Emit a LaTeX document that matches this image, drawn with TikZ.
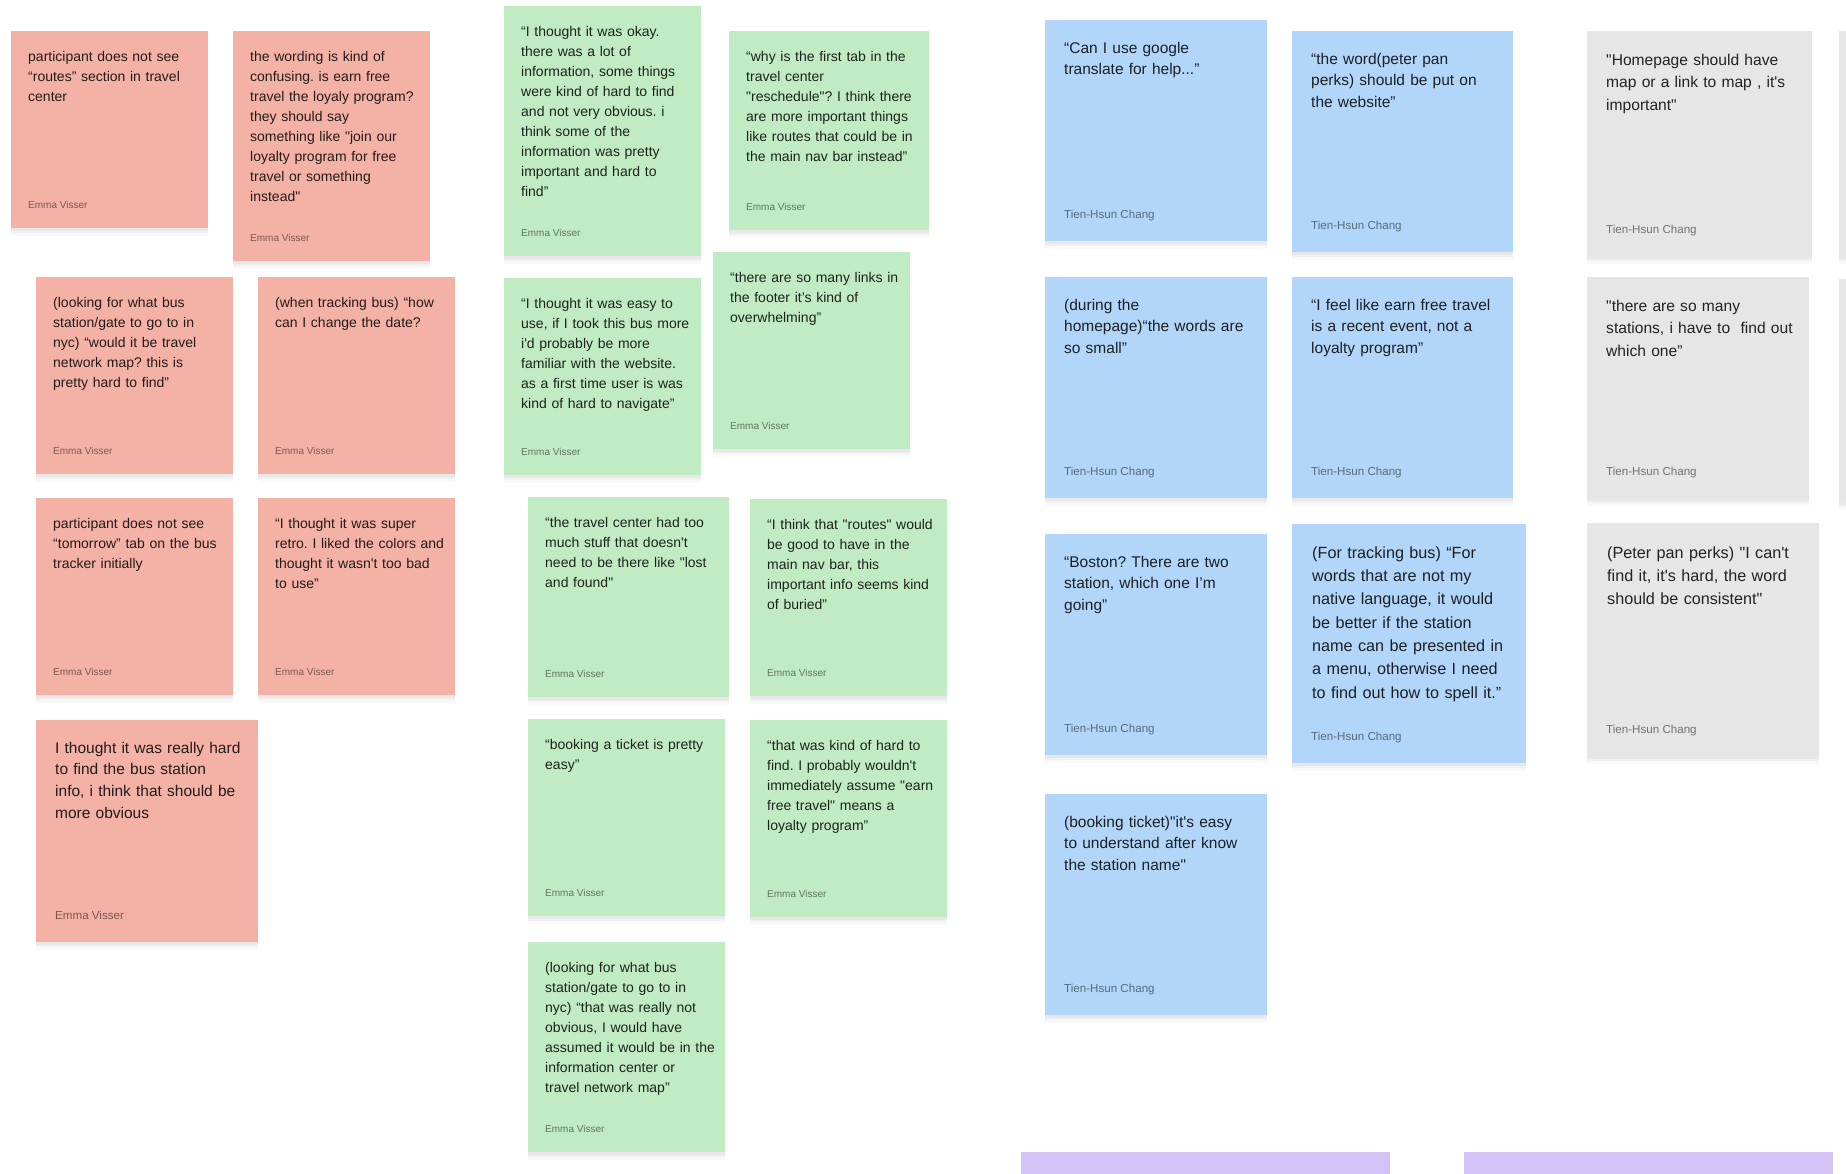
\documentclass[tikz,border=0pt]{standalone}
\usepackage{fontspec}
\newfontfamily\notefont{Liberation Sans}
\definecolor{notered}{HTML}{F4B2A6}
\definecolor{notegreen}{HTML}{C1EBC2}
\definecolor{noteblue}{HTML}{B2D6F9}
\definecolor{notegray}{HTML}{E6E6E6}
\definecolor{notepurple}{HTML}{D2C2F5}
\frenchspacing
\begin{document}
\begin{tikzpicture}[x=1pt,y=-1pt,
  sticky/.style={rectangle,anchor=north west,inner sep=0pt,minimum width=197pt,minimum height=197pt,
    preaction={fill=black,fill opacity=0.025,transform canvas={yshift=-8pt}},
    preaction={fill=black,fill opacity=0.03,transform canvas={yshift=-5pt}},
    preaction={fill=black,fill opacity=0.035,transform canvas={yshift=-2.5pt}}},
  remark/.style={anchor=north west,inner sep=0pt,text width=260pt,align=left,text opacity=0.85,
    font=\notefont\fontsize{14}{20}\selectfont,execute at begin node=\strut},
  bigremark/.style={remark,font=\notefont\fontsize{15.5}{21.8}\selectfont},
  grayremark/.style={remark,font=\notefont\fontsize{15.6}{22.7}\selectfont},
  xlremark/.style={remark,font=\notefont\fontsize{16.2}{23.3}\selectfont},
  who/.style={anchor=base west,inner sep=0pt,text opacity=0.5,font=\notefont\fontsize{10}{12}\selectfont},
  bigwho/.style={who,font=\notefont\fontsize{11.6}{14}\selectfont}]
  \useasboundingbox (0,0) rectangle (1846,1174);
  \clip (0,0) rectangle (1846,1174);
  \fill[white] (0,0) rectangle (1846,1174);

  % red notes
  \node[sticky,fill=notered] (r1) at (11,31) {};
  \node[remark] (r1t) at ([shift={(17,16.5)}]r1.north west) {participant does not see\\“routes” section in travel\\center};
  \node[sticky,fill=notered,minimum height=230pt] (r2) at (233,31) {};
  \node[remark] (r2t) at ([shift={(17,16.5)}]r2.north west) {the wording is kind of\\confusing. is earn free\\travel the loyaly program?\\they should say\\something like "join our\\loyalty program for free\\travel or something\\instead"};
  \node[sticky,fill=notered] (r3) at (36,277) {};
  \node[remark] (r3t) at ([shift={(17,16.5)}]r3.north west) {(looking for what bus\\station/gate to go to in\\nyc) “would it be travel\\network map? this is\\pretty hard to find”};
  \node[sticky,fill=notered] (r4) at (258,277) {};
  \node[remark] (r4t) at ([shift={(17,16.5)}]r4.north west) {(when tracking bus) “how\\can I change the date?};
  \node[sticky,fill=notered] (r5) at (36,498) {};
  \node[remark] (r5t) at ([shift={(17,16.5)}]r5.north west) {participant does not see\\“tomorrow” tab on the bus\\tracker initially};
  \node[sticky,fill=notered] (r6) at (258,498) {};
  \node[remark] (r6t) at ([shift={(17,16.5)}]r6.north west) {“I thought it was super\\retro. I liked the colors and\\thought it wasn't too bad\\to use”};
  \node[sticky,fill=notered,minimum size=222pt] (r7) at (36,720) {};
  \node[bigremark] (r7t) at ([shift={(19,17.7)}]r7.north west) {I thought it was really hard\\to find the bus station\\info, i think that should be\\more obvious};

  % green notes
  \node[sticky,fill=notegreen,minimum height=250pt] (g1) at (504,6) {};
  \node[remark] (g1t) at ([shift={(17,16.5)}]g1.north west) {“I thought it was okay.\\there was a lot of\\information, some things\\were kind of hard to find\\and not very obvious. i\\think some of the\\information was pretty\\important and hard to\\find”};
  \node[sticky,fill=notegreen,minimum width=200pt,minimum height=199pt] (g2) at (729,31) {};
  \node[remark] (g2t) at ([shift={(17,16.5)}]g2.north west) {“why is the first tab in the\\travel center\\"reschedule"? I think there\\are more important things\\like routes that could be in\\the main nav bar instead”};
  \node[sticky,fill=notegreen] (g3) at (504,278) {};
  \node[remark] (g3t) at ([shift={(17,16.5)}]g3.north west) {“I thought it was easy to\\use, if I took this bus more\\i'd probably be more\\familiar with the website.\\as a first time user is was\\kind of hard to navigate”};
  \node[sticky,fill=notegreen] (g4) at (713,252) {};
  \node[remark] (g4t) at ([shift={(17,16.5)}]g4.north west) {“there are so many links in\\the footer it’s kind of\\overwhelming”};
  \node[sticky,fill=notegreen,minimum width=201pt,minimum height=200pt] (g5) at (528,497) {};
  \node[remark] (g5t) at ([shift={(17,16.5)}]g5.north west) {“the travel center had too\\much stuff that doesn't\\need to be there like "lost\\and found"};
  \node[sticky,fill=notegreen] (g6) at (750,499) {};
  \node[remark] (g6t) at ([shift={(17,16.5)}]g6.north west) {“I think that "routes" would\\be good to have in the\\main nav bar, this\\important info seems kind\\of buried”};
  \node[sticky,fill=notegreen] (g7) at (528,719) {};
  \node[remark] (g7t) at ([shift={(17,16.5)}]g7.north west) {“booking a ticket is pretty\\easy”};
  \node[sticky,fill=notegreen] (g8) at (750,720) {};
  \node[remark] (g8t) at ([shift={(17,16.5)}]g8.north west) {“that was kind of hard to\\find. I probably wouldn't\\immediately assume "earn\\free travel" means a\\loyalty program”};
  \node[sticky,fill=notegreen,minimum height=210pt] (g9) at (528,942) {};
  \node[remark] (g9t) at ([shift={(17,16.5)}]g9.north west) {(looking for what bus\\station/gate to go to in\\nyc) “that was really not\\obvious, I would have\\assumed it would be in the\\information center or\\travel network map”};

  \foreach \n in {r1,r2,r3,r4,r5,r6,g1,g2,g3,g4,g5,g6,g7,g8,g9}
    \node[who] (\n a) at ([shift={(17,-19.5)}]\n.south west) {Emma Visser};
  \node[bigwho] (r7a) at ([shift={(19,-23)}]r7.south west) {Emma Visser};

  % blue notes
  \node[sticky,fill=noteblue,minimum width=222pt,minimum height=221pt] (b1) at (1045,20) {};
  \node[bigremark] (b1t) at ([shift={(19,17.7)}]b1.north west) {“Can I use google\\translate for help...”};
  \node[sticky,fill=noteblue,minimum width=221pt,minimum height=221pt] (b2) at (1292,31) {};
  \node[bigremark] (b2t) at ([shift={(19,17.7)}]b2.north west) {“the word(peter pan\\perks) should be put on\\the website”};
  \node[sticky,fill=noteblue,minimum width=222pt,minimum height=221pt] (b3) at (1045,277) {};
  \node[bigremark] (b3t) at ([shift={(19,17.7)}]b3.north west) {(during the\\homepage)“the words are\\so small”};
  \node[sticky,fill=noteblue,minimum width=221pt,minimum height=221pt] (b4) at (1292,277) {};
  \node[bigremark] (b4t) at ([shift={(19,17.7)}]b4.north west) {“I feel like earn free travel\\is a recent event, not a\\loyalty program”};
  \node[sticky,fill=noteblue,minimum width=222pt,minimum height=221pt] (b5) at (1045,534) {};
  \node[bigremark] (b5t) at ([shift={(19,17.7)}]b5.north west) {“Boston? There are two\\station, which one I’m\\going”};
  \node[sticky,fill=noteblue,minimum width=234pt,minimum height=239pt] (b6) at (1292,524) {};
  \node[xlremark] (b6t) at ([shift={(20,17.7)}]b6.north west) {(For tracking bus) “For\\words that are not my\\native language, it would\\be better if the station\\name can be presented in\\a menu, otherwise I need\\to find out how to spell it.”};
  \node[sticky,fill=noteblue,minimum width=222pt,minimum height=221pt] (b7) at (1045,794) {};
  \node[bigremark] (b7t) at ([shift={(19,17.7)}]b7.north west) {(booking ticket)"it's easy\\to understand after know\\the station name"};

  % gray notes
  \node[sticky,fill=notegray,minimum width=225pt,minimum height=225pt] (k1) at (1587,31) {};
  \node[grayremark] (k1t) at ([shift={(19,18)}]k1.north west) {"Homepage should have\\map or a link to map , it's\\important"};
  \node[sticky,fill=notegray,minimum width=222pt,minimum height=221pt] (k2) at (1587,277) {};
  \node[grayremark] (k2t) at ([shift={(19,18)}]k2.north west) {"there are so many\\stations, i have to~ find out\\which one”};
  \node[sticky,fill=notegray,minimum width=232pt,minimum height=233pt] (k3) at (1587,523) {};
  \node[xlremark] (k3t) at ([shift={(20,18.5)}]k3.north west) {(Peter pan perks) "I can't\\find it, it's hard, the word\\should be consistent"};
  \node[sticky,fill=notegray,minimum width=60pt,minimum height=225pt] (k4) at (1839,31) {};
  \node[sticky,fill=notegray,minimum width=60pt,minimum height=223pt] (k5) at (1839,279) {};

  \foreach \n in {b1,b2,b3,b4,b5,b6,b7,k1,k2,k3}
    \node[bigwho] (\n a) at ([shift={(19,-23)}]\n.south west) {Tien-Hsun Chang};

  % purple notes
  \node[sticky,fill=notepurple,minimum width=369pt,minimum height=100pt] (p1) at (1021,1152) {};
  \node[sticky,fill=notepurple,minimum width=369pt,minimum height=100pt] (p2) at (1464,1152) {};
\end{tikzpicture}
\end{document}
